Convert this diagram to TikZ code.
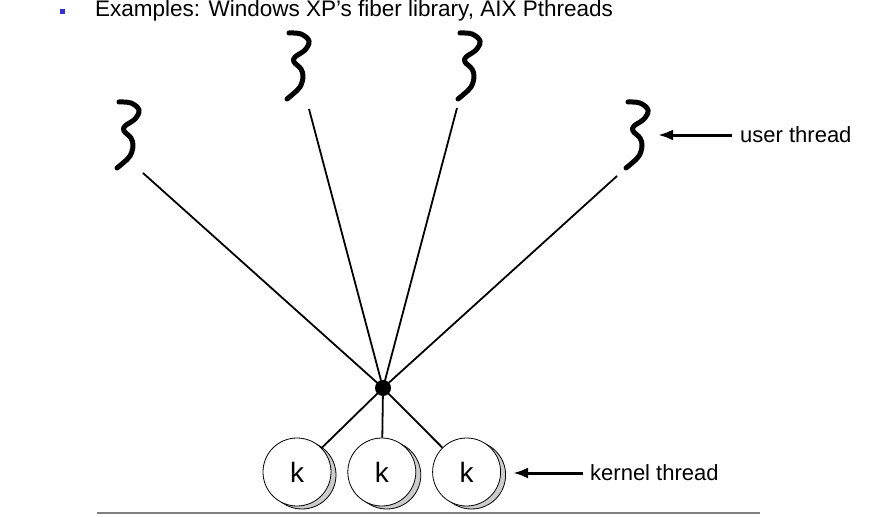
\documentclass[tikz,border=0pt]{standalone}
\usepackage{fontspec}
\setmainfont{Liberation Sans}
\usetikzlibrary{arrows.meta,positioning,shadows}
\definecolor{BulletBlue}{RGB}{51,51,204}
\definecolor{RuleGray}{RGB}{128,128,128}
\tikzset{
  squiggle/.style={line width=5pt, line cap=round, line join=round},
  uthread/.pic={\draw[squiggle] plot[smooth, tension=0.6] coordinates
    {(0,0) (12,1) (20,8) (16,17) (6,24) (5,29) (12,36) (14,44) (11,54) (4,61) (-2,66)};},
  kthread/.style={circle, draw, thick, fill=white, minimum size=68pt, inner sep=0pt,
    font=\fontsize{28}{30}\selectfont,
    copy shadow={shadow xshift=5pt, shadow yshift=-3pt, fill=gray!40, draw=black, thick}},
  hubdot/.style={circle, fill=black, minimum size=16pt, inner sep=0pt},
  link/.style={line width=1.8pt},
  label/.style={font=\fontsize{22}{24}\selectfont, inner sep=0pt},
  pointer/.style={-{Latex[length=15pt,width=11pt]}, line width=3pt}
}
\begin{document}
\begin{tikzpicture}[x=1pt, y=-1pt, node distance=16pt]
  \useasboundingbox (0,0) rectangle (882,516);
  % heading
  \node[fill=BulletBlue, minimum size=5pt, inner sep=0pt] (bullet) at (62,12) {};
  \node[anchor=base west, inner sep=0pt, font=\fontsize{22.5}{24}\selectfont] (head) at (95,17)
    {Examples: Windows XP’s fiber library, AIX Pthreads};
  % user threads
  \pic at (119,102) {uthread};
  \pic at (289,33) {uthread};
  \pic at (460,33) {uthread};
  \pic at (628,102) {uthread};
  \coordinate (u1) at (143,173);
  \coordinate (u2) at (309,109);
  \coordinate (u3) at (457,108);
  \coordinate (u4) at (617,176);
  \coordinate (utip) at (658,135);
  % kernel threads
  \node[hubdot] (hub) at (383,388) {};
  \node[kthread] (k1) at (297,472) {k};
  \node[kthread, right=of k1] (k2) {k};
  \node[kthread, right=of k2] (k3) {k};
  \coordinate (ktip) at (513,473);
  \foreach \u in {u1,u2,u3,u4}
    \draw[link] (\u) -- (hub.center);
  \foreach \k in {k1,k2,k3}
    \draw[link] (hub.center) -- (\k);
  % labels
  \node[label, anchor=west] (ulabel) at (740,135) {user thread};
  \node[label, anchor=west] (klabel) at (590,473) {kernel thread};
  \draw[pointer] ([xshift=-8pt]ulabel.west) -- (utip);
  \draw[pointer] ([xshift=-7pt]klabel.west) -- (ktip);
  \draw[RuleGray, line width=2pt] (97,513) -- (760,513);
\end{tikzpicture}
\end{document}
